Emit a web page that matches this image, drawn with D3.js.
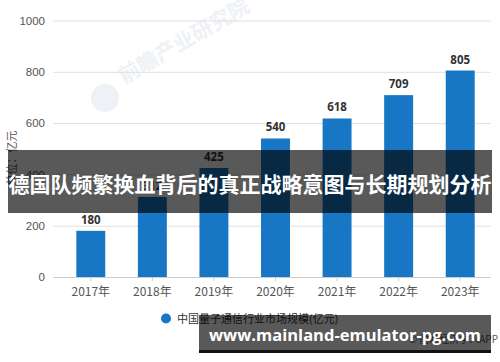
<!DOCTYPE html>
<html>
<head>
<meta charset="utf-8">
<script src="https://cdn.jsdelivr.net/npm/d3@7"></script>
<style>
  body { margin: 0; background: #fff; }
  svg { display: block; font-family: "Open Sans", "Noto Sans CJK SC", sans-serif; }
</style>
</head>
<body>
<svg id="chart" width="500" height="362"></svg>
<script>
// datos del gráfico
const years = ["2017年", "2018年", "2019年", "2020年", "2021年", "2022年", "2023年"];
const values = [180, 312, 425, 540, 618, 709, 805];
const yTicks = [0, 200, 400, 600, 800, 1000];
const seriesName = "中国量子通信行业市场规模(亿元)";
const yLabel = "单位：亿元";
const bannerTitle = "德国队频繁换血背后的真正战略意图与长期规划分析";
const bannerUrl = "www.mainland-emulator-pg.com";

const svg = d3.select("#chart");
const blue = "#1777c4";

const x = d3.scaleBand().domain(years).range([60, 491]).paddingInner(0.53).paddingOuter(0.265);
const y = d3.scaleLinear().domain([0, 1000]).range([277, 20.5]);

// marca de agua
const wm = svg.append("g").attr("fill", "#eef1f5");
wm.append("circle").attr("cx", 105).attr("cy", 98).attr("r", 14);
wm.append("text")
    .attr("transform", "translate(124,84) rotate(-30)")
    .attr("font-size", 21).attr("font-weight", "bold")
    .attr("font-family", "Noto Sans CJK SC")
    .text("前瞻产业研究院");

// rejilla + eje Y
const yAxis = svg.append("g")
    .attr("transform", "translate(53,0)")
    .call(d3.axisLeft(y).tickValues(yTicks).tickFormat(d3.format("d")).tickSize(-438).tickPadding(8));
yAxis.select(".domain").remove();
yAxis.selectAll("line").attr("stroke", "#e0e0e0");
yAxis.selectAll("text").attr("fill", "#555").attr("font-size", 11.5);

// barras
svg.append("g").selectAll("rect")
    .data(values)
    .join("rect")
    .attr("x", (d, i) => x(years[i]))
    .attr("y", d => y(d))
    .attr("width", x.bandwidth())
    .attr("height", d => y(0) - y(d))
    .attr("fill", blue);

svg.append("g").selectAll("text")
    .data(values)
    .join("text")
    .attr("x", (d, i) => x(years[i]) + x.bandwidth() / 2)
    .attr("y", d => y(d) - 7)
    .attr("text-anchor", "middle")
    .attr("font-size", 11.5)
    .attr("font-weight", "bold")
    .attr("fill", "#333")
    .text(d => d);

// eje X
const xAxis = svg.append("g")
    .attr("transform", `translate(0,${y(0)})`)
    .call(d3.axisBottom(x).tickSize(4).tickPadding(6));
xAxis.selectAll("line").attr("stroke", "#ccc");
xAxis.selectAll("text").attr("fill", "#555").attr("font-size", 12)
    .attr("font-family", "Noto Sans CJK SC");
xAxis.select(".domain").attr("d", "M53,0.5H491").attr("stroke", "#ccc");

// etiqueta eje Y
svg.append("text")
    .attr("transform", "translate(16,158) rotate(-90)")
    .attr("text-anchor", "middle")
    .attr("font-size", 11)
    .attr("fill", "#555")
    .attr("font-family", "Noto Sans CJK SC")
    .text(yLabel);

// leyenda
svg.append("circle").attr("cx", 166).attr("cy", 318.5).attr("r", 5).attr("fill", blue);
svg.append("text")
    .attr("x", 177).attr("y", 322.5)
    .attr("font-size", 11)
    .attr("fill", "#333")
    .attr("font-family", "Noto Sans CJK SC")
    .text(seriesName);
svg.append("text")
    .attr("x", 498).attr("y", 343)
    .attr("text-anchor", "end")
    .attr("font-size", 10)
    .attr("fill", "#555")
    .attr("font-family", "Noto Sans CJK SC")
    .text("© 前瞻经济学人APP");

// banda del título
svg.append("rect")
    .attr("x", 8).attr("y", 150).attr("width", 484).attr("height", 63)
    .attr("fill", "rgba(0,0,0,0.65)");
svg.append("text")
    .attr("x", 250).attr("y", 192)
    .attr("text-anchor", "middle")
    .attr("font-size", 21)
    .attr("font-weight", "bold")
    .attr("fill", "#fff")
    .attr("font-family", "Noto Sans CJK SC")
    .text(bannerTitle);

// banda inferior
svg.append("rect")
    .attr("x", 199).attr("y", 315).attr("width", 292).attr("height", 35)
    .attr("fill", "rgba(0,0,0,0.65)");
svg.append("rect")
    .attr("x", 199).attr("y", 350).attr("width", 292).attr("height", 3)
    .attr("fill", "#111");
svg.append("text")
    .attr("x", 209).attr("y", 341)
    .attr("font-size", 16.5)
    .attr("font-weight", "bold")
    .attr("fill", "#fff")
    .attr("font-family", "Open Sans")
    .text(bannerUrl);
</script>
</body>
</html>
